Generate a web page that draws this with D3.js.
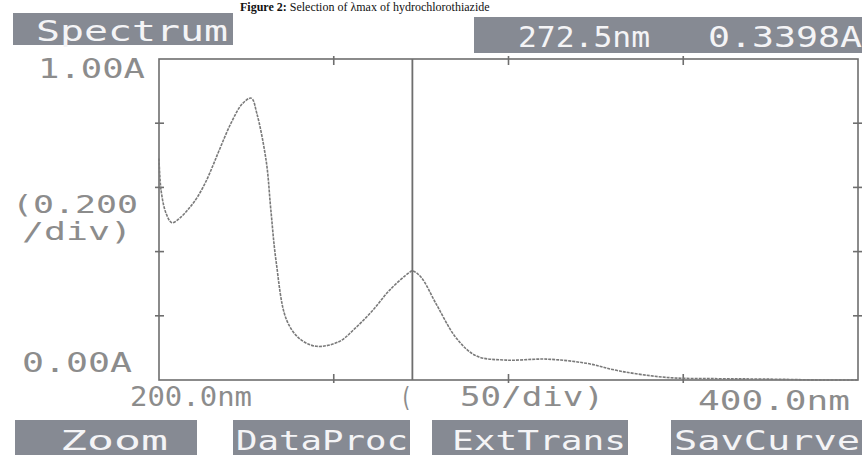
<!DOCTYPE html>
<html>
<head>
    <meta charset="utf-8">
    <title>Spectrum</title>
    <script src="https://cdnjs.cloudflare.com/ajax/libs/d3/7.8.5/d3.min.js"></script>
    <style>
        body {
            margin: 0;
            background: #ffffff;
        }
        svg {
            display: block;
        }
    </style>
</head>
<body>
    <div id="chart"></div>

    <script>
        // Values
        const wavelength = [200, 200.6, 202, 203.7, 206, 208.6, 211, 213.5, 215.5, 217.2, 220.6, 223.8, 226.4, 228,
            230.7, 232, 233.5, 236.4, 240.1, 245, 251.6, 256, 261, 266, 271.6, 272.5, 275, 279.4, 285.1, 290.8,
            299.4, 310.9, 322.3, 331.8, 345.3, 360, 372.8, 390, 400];
        const absorbance = [0.69, 0.59, 0.52, 0.49, 0.505, 0.535, 0.57, 0.62, 0.67, 0.715, 0.80, 0.86, 0.878, 0.83,
            0.68, 0.53, 0.37, 0.19, 0.13, 0.105, 0.12, 0.16, 0.215, 0.28, 0.335, 0.34, 0.32, 0.235, 0.13, 0.075,
            0.062, 0.065, 0.052, 0.028, 0.008, 0.004, 0.003, 0.0, 0.0];
        const xTicks = [250, 300, 350];
        const yTicks = [0.2, 0.4, 0.6, 0.8];
        const cursorNm = 272.5;
        const cursorAbs = 0.3398;
        const buttons = ["Zoom", "DataProc", "ExtTrans", "SavCurve"];

        const width = 862, height = 455;
        const plot = { left: 159, right: 858, top: 59, bottom: 380 };

        const svg = d3.select("#chart").append("svg")
            .attr("width", width)
            .attr("height", height);

        const x = d3.scaleLinear().domain([200, 400]).range([plot.left, plot.right]);
        const y = d3.scaleLinear().domain([0, 1]).range([plot.bottom, plot.top]);

        const lcd = "'DejaVu Sans Mono', 'Liberation Mono', monospace";
        const grey = "#8c8c8c";

        // caption, sitting right at the top edge of the scan
        const cap = svg.append("text")
            .attr("x", 240).attr("y", 11)
            .attr("font-family", "'Liberation Serif', serif")
            .attr("font-size", 12)
            .attr("fill", "#111");
        cap.append("tspan").attr("font-weight", "bold").text("Figure 2: ");
        cap.append("tspan").text("Selection of λmax of hydrochlorothiazide");

        // reverse-video boxes
        function box(x0, y0, x1, y1, label, tx0, tx1, base, size) {
            svg.append("rect")
                .attr("x", x0).attr("y", y0)
                .attr("width", x1 - x0).attr("height", y1 - y0)
                .attr("fill", "#868a93");
            svg.append("text")
                .attr("x", tx0).attr("y", base)
                .attr("textLength", tx1 - tx0)
                .attr("lengthAdjust", "spacingAndGlyphs")
                .attr("font-family", lcd)
                .attr("font-size", size)
                .attr("fill", "#f4f4f6")
                .text(label);
        }

        box(13, 13, 233, 45, "Spectrum", 36, 228, 41, 28);
        svg.append("rect").attr("x", 474).attr("y", 17).attr("width", 388).attr("height", 36).attr("fill", "#868a93");
        [[cursorNm.toFixed(1) + "nm", 518, 650], [cursorAbs.toFixed(4) + "A", 708, 862]].forEach(([t, a, b]) => {
            svg.append("text")
                .attr("x", a).attr("y", 47)
                .attr("textLength", b - a)
                .attr("lengthAdjust", "spacingAndGlyphs")
                .attr("font-family", lcd)
                .attr("font-size", 29)
                .attr("fill", "#f4f4f6")
                .text(t);
        });

        const btnPos = [[15, 197, 60, 168], [233, 410, 236, 408], [432, 628, 452, 626], [671, 862, 674, 860]];
        buttons.forEach((b, i) => {
            const p = btnPos[i];
            box(p[0], 420, p[1], 455, b, p[2], p[3], 450, 26);
        });

        // frame
        const g = svg.append("g")
            .attr("fill", "none")
            .attr("stroke", "#6e6e6e")
            .attr("stroke-width", 1.6);
        g.append("rect")
            .attr("x", x(200)).attr("y", y(1))
            .attr("width", x(400) - x(200))
            .attr("height", y(0) - y(1));

        // ticks on all four sides
        yTicks.forEach(v => {
            g.append("line").attr("x1", x(200) - 4).attr("x2", x(200) + 5).attr("y1", y(v)).attr("y2", y(v));
            g.append("line").attr("x1", x(400) - 5).attr("x2", x(400) + 4).attr("y1", y(v)).attr("y2", y(v));
        });
        xTicks.forEach(v => {
            g.append("line").attr("x1", x(v)).attr("x2", x(v)).attr("y1", y(1) - 3).attr("y2", y(1) + 6);
            g.append("line").attr("x1", x(v)).attr("x2", x(v)).attr("y1", y(0) - 6).attr("y2", y(0) + 3);
        });

        // cursor
        g.append("line")
            .attr("x1", x(cursorNm)).attr("x2", x(cursorNm))
            .attr("y1", y(1)).attr("y2", y(0))
            .attr("stroke-width", 1.8);

        // spectrum trace
        const pts = wavelength.map((w, i) => [w, absorbance[i]]);
        svg.append("path")
            .datum(pts)
            .attr("fill", "none")
            .attr("stroke", "#7a7a7a")
            .attr("stroke-width", 1.6)
            .attr("stroke-dasharray", "3,1")
            .attr("d", d3.line().x(d => x(d[0])).y(d => y(d[1])).curve(d3.curveCatmullRom));

        // axis labels
        function label(t, x0, x1, base, size) {
            svg.append("text")
                .attr("x", x0).attr("y", base)
                .attr("textLength", x1 - x0)
                .attr("lengthAdjust", "spacingAndGlyphs")
                .attr("font-family", lcd)
                .attr("font-size", size)
                .attr("fill", grey)
                .text(t);
        }
        label("1.00A", 38, 145, 78, 27);
        label("(0.200", 12, 138, 213, 24);
        label("/div)", 22, 132, 240, 24);
        label("0.00A", 22, 132, 372, 27);
        label("200.0nm", 130, 252, 406, 27);
        label("(", 400, 412, 406, 27);
        label("50/div)", 460, 604, 406, 27);
        label("400.0nm", 698, 850, 410, 27);
    </script>
</body>
</html>
